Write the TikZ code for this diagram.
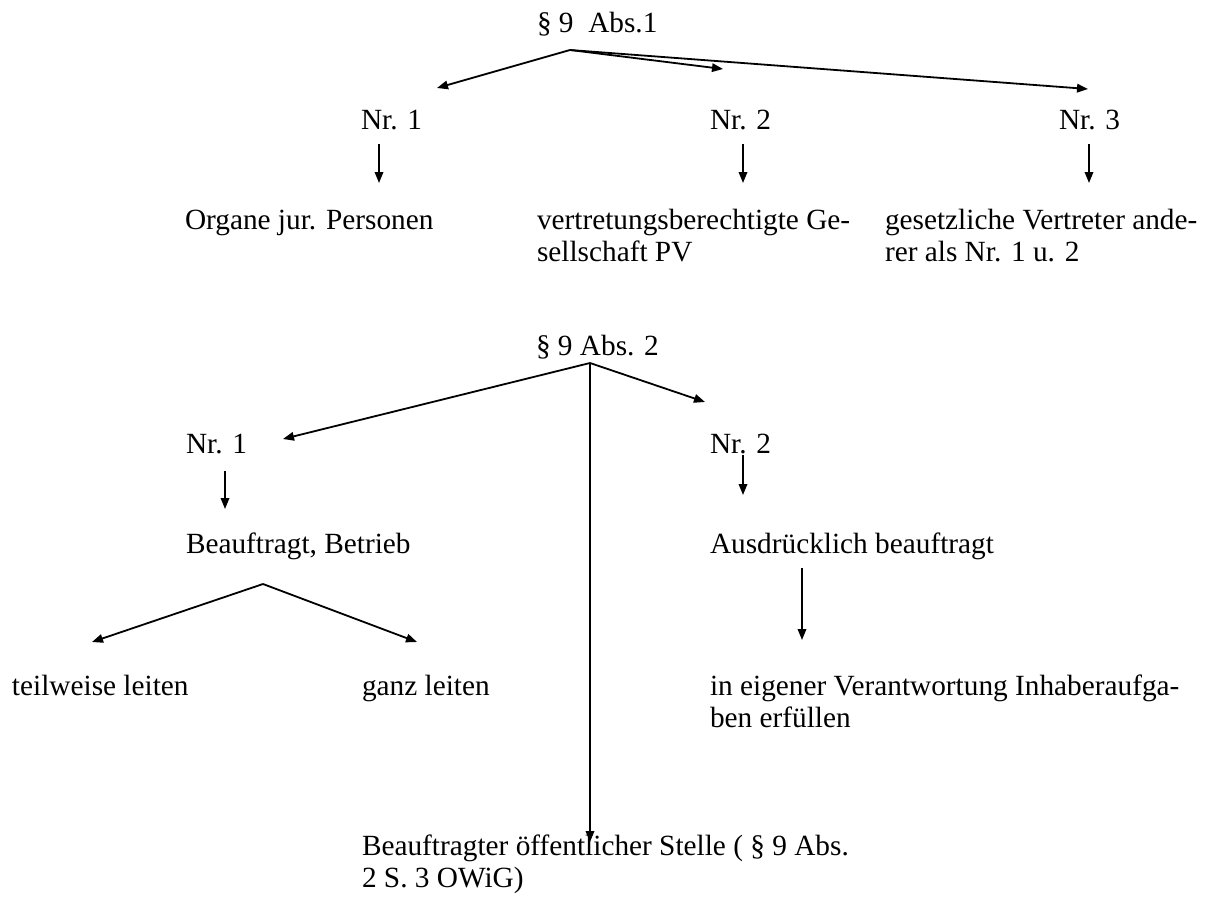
\documentclass[tikz,border=0pt]{standalone}
\usepackage{fontspec}
\setmainfont{Liberation Serif}
\usetikzlibrary{arrows.meta}
\newcommand\twolines[2]{\begin{tabular}[t]{@{}l@{}}#1\\#2\end{tabular}}
\begin{document}
\begin{tikzpicture}[x=1pt,y=-1pt,
  txt/.style={anchor=base west,inner sep=0pt,outer sep=0pt,font=\fontsize{29.3}{32}\selectfont},
  arr/.style={line width=1.8pt,-{Triangle[length=11pt,width=8.5pt]}}]
\useasboundingbox (0,0) rectangle (1208,908);
% texts
\node[txt] (t1) at (537,32) {§ 9~ Abs.1};
\node[txt] (n11) at (361,129) {Nr. 1};
\node[txt] (n12) at (710,129) {Nr. 2};
\node[txt] (n13) at (1059,129) {Nr. 3};
\node[txt] (o1) at (185,229) {Organe jur. Personen};
\node[txt] (o2) at (537,229) {\twolines{vertretungsberechtigte Ge-}{sellschaft PV}};
\node[txt] (o3) at (885,229) {\twolines{gesetzliche Vertreter ande-}{rer als Nr. 1 u. 2}};
\node[txt] (t2) at (536,355) {§ 9 Abs. 2};
\node[txt] (m1) at (186,453) {Nr. 1};
\node[txt] (m2) at (710,453) {Nr. 2};
\node[txt] (b1) at (186,553) {Beauftragt, Betrieb};
\node[txt] (b2) at (710,553) {Ausdrücklich beauftragt};
\node[txt] (c1) at (12,695) {teilweise leiten};
\node[txt] (c2) at (362,695) {ganz leiten};
\node[txt] (c3) at (710,695) {\twolines{in eigener Verantwortung Inhaberaufga-}{ben erfüllen}};
\node[txt] (d) at (362,855) {\twolines{Beauftragter öffentlicher Stelle ( § 9 Abs.}{2 S. 3 OWiG)}};
% connector points
\coordinate (a1) at (570,50);
\coordinate (a1l) at (437,88);
\coordinate (a1m) at (723,69);
\coordinate (a1r) at (1088,89);
\coordinate (s1a) at (379,144); \coordinate (s1b) at (379,183);
\coordinate (s2a) at (743,144); \coordinate (s2b) at (743,183);
\coordinate (s3a) at (1089,144); \coordinate (s3b) at (1089,183);
\coordinate (a2) at (590,363);
\coordinate (a2l) at (283,439);
\coordinate (a2r) at (705,402);
\coordinate (a2d) at (590,842);
\coordinate (u1a) at (225,471); \coordinate (u1b) at (225,509);
\coordinate (u2a) at (743,455); \coordinate (u2b) at (743,495);
\coordinate (a3) at (263,584);
\coordinate (a3l) at (92,642);
\coordinate (a3r) at (417,642);
\coordinate (v1a) at (802,568); \coordinate (v1b) at (802,640);
% connectors
\draw[arr] (a1) -- (a1l);
\draw[arr] (a1) -- (a1m);
\draw[arr] (a1) -- (a1r);
\draw[arr] (s1a) -- (s1b);
\draw[arr] (s2a) -- (s2b);
\draw[arr] (s3a) -- (s3b);
\draw[arr] (a2) -- (a2l);
\draw[arr] (a2) -- (a2r);
\draw[arr] (a2) -- (a2d);
\draw[arr] (u1a) -- (u1b);
\draw[arr] (u2a) -- (u2b);
\draw[arr] (a3) -- (a3l);
\draw[arr] (a3) -- (a3r);
\draw[arr] (v1a) -- (v1b);
\end{tikzpicture}
\end{document}
